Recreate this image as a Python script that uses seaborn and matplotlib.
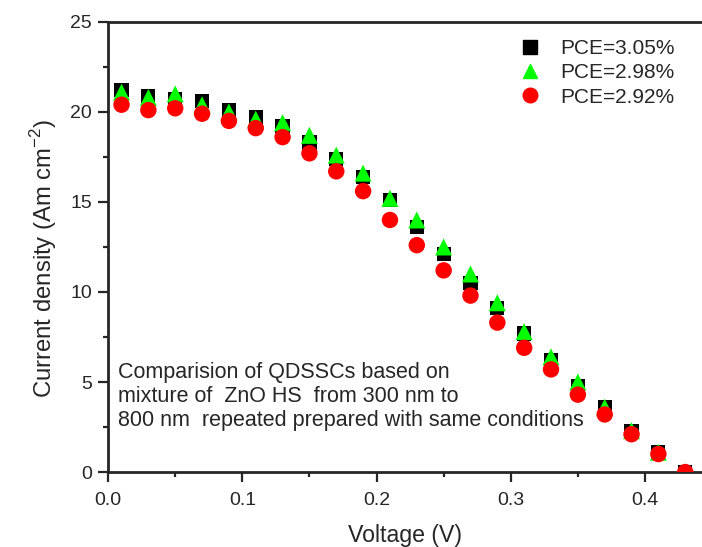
import pandas as pd
import matplotlib.pyplot as plt
import seaborn as sns
import numpy as np
from matplotlib.ticker import MultipleLocator
from matplotlib.lines import Line2D

# Voltage points (V)
voltage = [0.01, 0.03, 0.05, 0.07, 0.09, 0.11, 0.13, 0.15, 0.17, 0.19, 0.21,
           0.23, 0.25, 0.27, 0.29, 0.31, 0.33, 0.35, 0.37, 0.39, 0.41, 0.43]

# Current density for each cell
j_305 = [21.2, 20.9, 20.7, 20.6, 20.1, 19.7, 19.2, 18.3, 17.4, 16.4, 15.1,
         13.6, 12.1, 10.5, 9.1, 7.7, 6.2, 4.8, 3.6, 2.3, 1.1, 0.0]
j_298 = [21.1, 20.8, 21.0, 20.4, 20.0, 19.6, 19.4, 18.7, 17.6, 16.6, 15.2,
         14.0, 12.5, 11.0, 9.4, 7.8, 6.4, 5.0, 3.6, 2.3, 1.1, 0.0]
j_292 = [20.4, 20.1, 20.2, 19.9, 19.5, 19.1, 18.6, 17.7, 16.7, 15.6, 14.0,
         12.6, 11.2, 9.8, 8.3, 6.9, 5.7, 4.3, 3.2, 2.1, 1.0, 0.0]

labels = ['PCE=3.05%', 'PCE=2.98%', 'PCE=2.92%']
colors = ['black', '#00ff00', '#ff0000']
markers = ['s', '^', 'o']

df = pd.DataFrame({
    'Voltage': voltage * 3,
    'J': j_305 + j_298 + j_292,
    'PCE': np.repeat(labels, len(voltage)),
})

sns.set_style('ticks')
plt.rcParams['font.family'] = ['Liberation Sans', 'DejaVu Sans']

fig = plt.figure(figsize=(7.02, 5.47), dpi=100)
ax = fig.add_axes([0.154, 0.137, 0.846, 0.823])

# draw red first, then black, then green on top (as in the original)
sizes = {'s': 105, '^': 150, 'o': 140}
for i in [2, 0, 1]:
    sub = df[df['PCE'] == labels[i]]
    sns.scatterplot(data=sub, x='Voltage', y='J', ax=ax, color=colors[i],
                    marker=markers[i], s=sizes[markers[i]], edgecolor='none',
                    linewidth=0, legend=False, zorder=3 + i)

ax.set_xlim(0, 0.4425)
ax.set_ylim(0, 25)
ax.xaxis.set_major_locator(MultipleLocator(0.1))
ax.xaxis.set_minor_locator(MultipleLocator(0.05))
ax.yaxis.set_major_locator(MultipleLocator(5))
ax.yaxis.set_minor_locator(MultipleLocator(2.5))
ax.xaxis.set_major_formatter(plt.FormatStrFormatter('%.1f'))

for s in ['left', 'bottom', 'top']:
    ax.spines[s].set_linewidth(2)
ax.spines['right'].set_visible(False)
ax.tick_params(which='major', direction='out', length=7, width=1.6,
               labelsize=14, top=False, right=False, pad=4.5)
ax.tick_params(axis='x', which='major', pad=7)
ax.tick_params(which='minor', direction='out', length=3.8, width=1.6,
               top=False, right=False)

ax.set_xlabel('Voltage (V)', fontsize=16.7, labelpad=11)
ax.set_ylabel('Current density (Am cm$^{\\mathregular{-2}}$)', fontsize=17.2)
ax.yaxis.set_label_coords(-0.082, 0.475)

handles = [Line2D([], [], linestyle='none', marker=markers[i], color=colors[i],
                  markersize=10.5) for i in range(3)]
ax.legend(handles, labels, loc='upper right', bbox_to_anchor=(0.986, 1.003),
          frameon=False, fontsize=15, handletextpad=0.7, labelspacing=0.25,
          handlelength=1.5)

ax.text(0.017, 0.245,
        'Comparision of QDSSCs based on\nmixture of  ZnO HS  from 300 nm to\n'
        '800 nm  repeated prepared with same conditions',
        transform=ax.transAxes, fontsize=15.5, va='top', ha='left',
        linespacing=1.2)

fig.savefig('out.png', dpi=100)
